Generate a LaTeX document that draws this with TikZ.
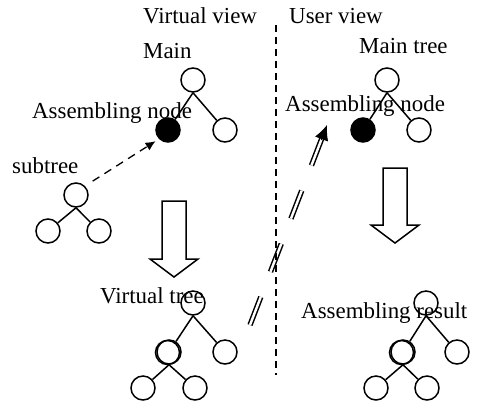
\documentclass[tikz,border=0pt]{standalone}
\usepackage{fontspec}
\setmainfont{Liberation Serif}
\usetikzlibrary{arrows.meta,calc}

\begin{document}
\begin{tikzpicture}[x=1bp,y=-1bp,
  lbl/.style={anchor=base west,inner sep=0pt,font=\fontsize{23}{27}\selectfont},
  vtx/.style={circle,draw,line width=1.5bp,inner sep=0pt,minimum size=24bp},
  hit/.style={vtx,fill=black},
  edge/.style={line width=1.5bp},
  hollow/.style={line width=1.5bp,line join=miter},
  link/.style={line width=1.3bp,dash pattern=on 8bp off 6bp,-{Latex[length=10bp,width=9bp]},shorten <=9bp,shorten >=4bp},
  dbl/.style={double,double distance=2.4bp,line width=1.5bp,dash pattern=on 30bp off 27bp,shorten >=13bp},
  dblhead/.style={-{Latex[length=15bp,width=14bp]},line width=1bp},
  sep/.style={line width=1.3bp,dash pattern=on 7bp off 5bp}]
\useasboundingbox (0,0) rectangle (478,408);

\node[lbl] (vview) at (143,23) {Virtual view};
\node[lbl] (uview) at (289,23) {User view};
\node[lbl] (mlbl) at (143,58) {Main};
\node[lbl] (mtlbl) at (359,53) {Main tree};

\node[vtx] (mroot) at (193,80) {};
\node[hit] (anode) at (168,130) {};
\node[vtx] (mright) at (225,130) {};
\draw[edge] (mroot.south) -- (anode);
\draw[edge] (mroot.south) -- (mright);
\node[lbl] (albl) at (32,118) {Assembling node};

\node[vtx] (uroot) at (387,80) {};
\node[hit] (unode) at (363,130) {};
\node[vtx] (uright) at (419,130) {};
\draw[edge] (uroot.south) -- (unode);
\draw[edge] (uroot.south) -- (uright);
\node[lbl] (ualbl) at (285,111) {Assembling node};

\node[lbl] (slbl) at (12,173) {subtree};
\node[vtx] (sroot) at (76,195) {};
\node[vtx] (sleft) at (48,231) {};
\node[vtx] (sright) at (99,231) {};
\draw[edge] (sroot.south) -- (sleft);
\draw[edge] (sroot.south) -- (sright);
\draw[link] (sroot.north east) -- (anode.south west);

\draw[hollow] (162,201) -- (186,201) -- (186,259) -- (198,259) -- (174,277) -- (150,259) -- (162,259) -- cycle;
\draw[hollow] (383,168) -- (407,168) -- (407,225) -- (419,225) -- (395,243) -- (371,225) -- (383,225) -- cycle;

\node[lbl] (vtlbl) at (100,303) {Virtual tree};
\node[vtx] (vroot) at (193,303) {};
\node[vtx] (vleft) at (169,352) {};
\node[vtx] (vleftb) at (167.5,352.5) {};
\node[vtx] (vright) at (225,352) {};
\node[vtx] (vgl) at (143,388) {};
\node[vtx] (vgr) at (195,388) {};
\draw[edge] (vroot.south) -- (vleft);
\draw[edge] (vroot.south) -- (vright);
\draw[edge] (vleft.south) -- (vgl);
\draw[edge] (vleft.south) -- (vgr);

\node[lbl] (rlbl) at (301,318) {Assembling result};
\node[vtx] (rroot) at (426,303) {};
\node[vtx] (rleft) at (403,352) {};
\node[vtx] (rleftb) at (401.5,352.5) {};
\node[vtx] (rright) at (457,352) {};
\node[vtx] (rgl) at (376,388) {};
\node[vtx] (rgr) at (427,388) {};
\draw[edge] (rroot.south) -- (rleft);
\draw[edge] (rroot.south) -- (rright);
\draw[edge] (rleft.south) -- (rgl);
\draw[edge] (rleft.south) -- (rgr);

\coordinate (dstart) at (250,325);
\coordinate (dend) at (327,125);
\draw[dbl] (dstart) -- (dend);
\draw[dblhead] ($(dend)!16bp!(dstart)$) -- (dend);

\coordinate (vtop) at (276,25);
\coordinate (vbot) at (276,375);
\draw[sep] (vtop) -- (vbot);
\end{tikzpicture}
\end{document}
